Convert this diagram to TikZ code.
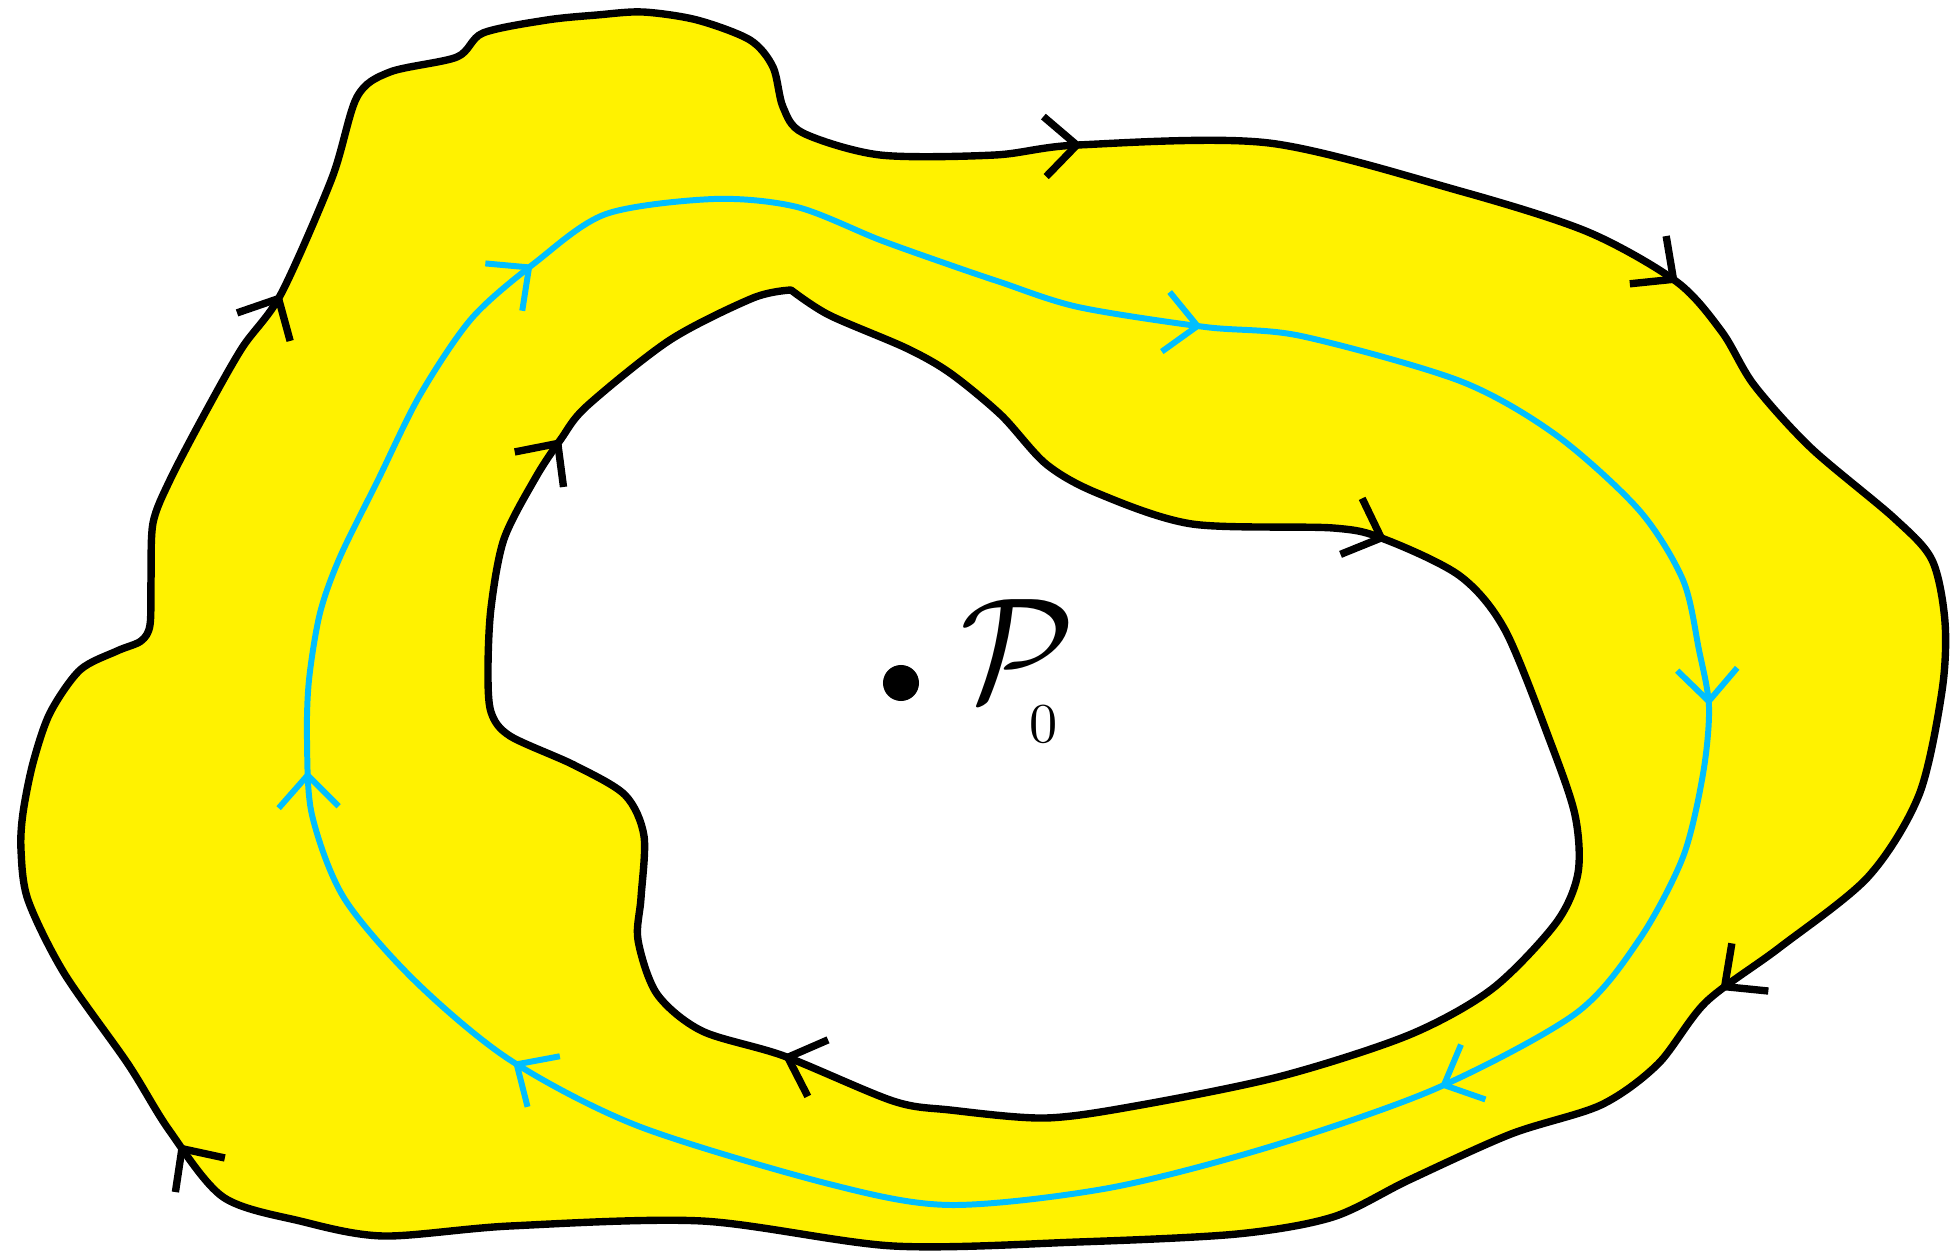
\documentclass[tikz,border=0pt]{standalone}
\usepackage{amsmath,amssymb}
\usetikzlibrary{decorations.markings,arrows.meta}
\definecolor{annulus}{RGB}{255,242,0}
\definecolor{loopblue}{RGB}{0,191,255}
\tikzset{
  rim/.style={line width=2.1pt, line join=round},
  cyanloop/.style={color=loopblue, line width=1.7pt, line join=round},
}
\newcommand{\barb}{\arrow{Straight Barb[length=3.2mm,width=6mm]}}

\begin{document}
\begin{tikzpicture}[x=0.01cm,y=-0.01cm]
    \useasboundingbox (0,0) rectangle (1950,1258);
    % outer boundary, filled
    \begin{scope}[decoration={markings,mark=at position 0.149 with {\barb},mark=at position 0.269 with {\barb},mark=at position 0.443 with {\barb},mark=at position 0.761 with {\barb},mark=at position 0.951 with {\barb}}]
        \draw[rim, fill=annulus, postaction={decorate}] plot[smooth cycle] coordinates {(357,97) (390,72) (457,57) (483,33) (547,20) (597,15) (643,12) (697,20) (750,40) (773,67) (783,107) (803,133) (880,155) (995,155) (1078,145) (1269,143) (1460,191) (1588,232) (1677,282) (1722,332) (1754,385) (1811,448) (1894,518) (1932,560) (1945,622) (1942,691) (1919,795) (1868,877) (1779,948) (1706,1002) (1658,1064) (1601,1105) (1511,1134) (1409,1180) (1333,1217) (1237,1234) (1078,1242) (893,1246) (702,1221) (510,1226) (383,1236) (300,1221) (223,1197) (169,1130) (128,1064) (64,973) (28,900) (21,850) (23,813) (33,763) (50,713) (80,670) (117,651) (141,641) (150,625) (151,580) (153,523) (170,480) (204,415) (242,348) (281,294) (332,178)};
    \end{scope}
    % inner boundary, hole
    \begin{scope}[decoration={markings,mark=at position 0.219 with {\barb},mark=at position 0.645 with {\barb},mark=at position 0.908 with {\barb}}]
        \draw[rim, fill=white, postaction={decorate}] plot[smooth] coordinates {(791,290) (829,315) (906,348) (950,373) (1001,415) (1046,464) (1097,493) (1192,524) (1333,528) (1384,539) (1460,576) (1505,630) (1550,741) (1575,815) (1578,873) (1556,923) (1492,989) (1409,1035) (1282,1076) (1141,1105) (1046,1118) (950,1110) (893,1101) (784,1056) (702,1031) (657,994) (638,940) (641,898) (644,836) (625,795) (574,765) (510,736) (491,712) (488,670) (491,608) (504,539) (536,477) (561,439) (587,406) (670,340) (753,298) (791,290)} -- cycle;
    \end{scope}
    % blue loop
    \begin{scope}[decoration={markings,mark=at position 0.111 with {\barb},mark=at position 0.294 with {\barb},mark=at position 0.425 with {\barb},mark=at position 0.679 with {\barb},mark=at position 0.776 with {\barb},mark=at position 0.926 with {\barb}}]
        \draw[cyanloop, postaction={decorate}] plot[smooth cycle] coordinates {(714,199) (797,207) (880,240) (950,265) (1000,282) (1078,307) (1205,327) (1301,336) (1460,381) (1556,435) (1639,510) (1683,580) (1699,650) (1709,707) (1703,774) (1683,857) (1639,940) (1575,1014) (1435,1089) (1269,1147) (1109,1188) (950,1205) (829,1184) (638,1126) (510,1060) (415,981) (344,898) (312,815) (307,740) (309,680) (320,613) (340,557) (378,480) (420,395) (472,318) (536,262) (606,214)};
    \end{scope}
    \node[circle, fill=black, inner sep=0pt, minimum size=0.36cm] (p0dot) at (901,683) {};
    \node[inner sep=0pt, scale=4.2] (p0) at (1018,650) {$\mathcal{P}$};
    \node[inner sep=0pt, scale=1.6] (p0sub) at (1044,724) {$0$};
\end{tikzpicture}
\end{document}
